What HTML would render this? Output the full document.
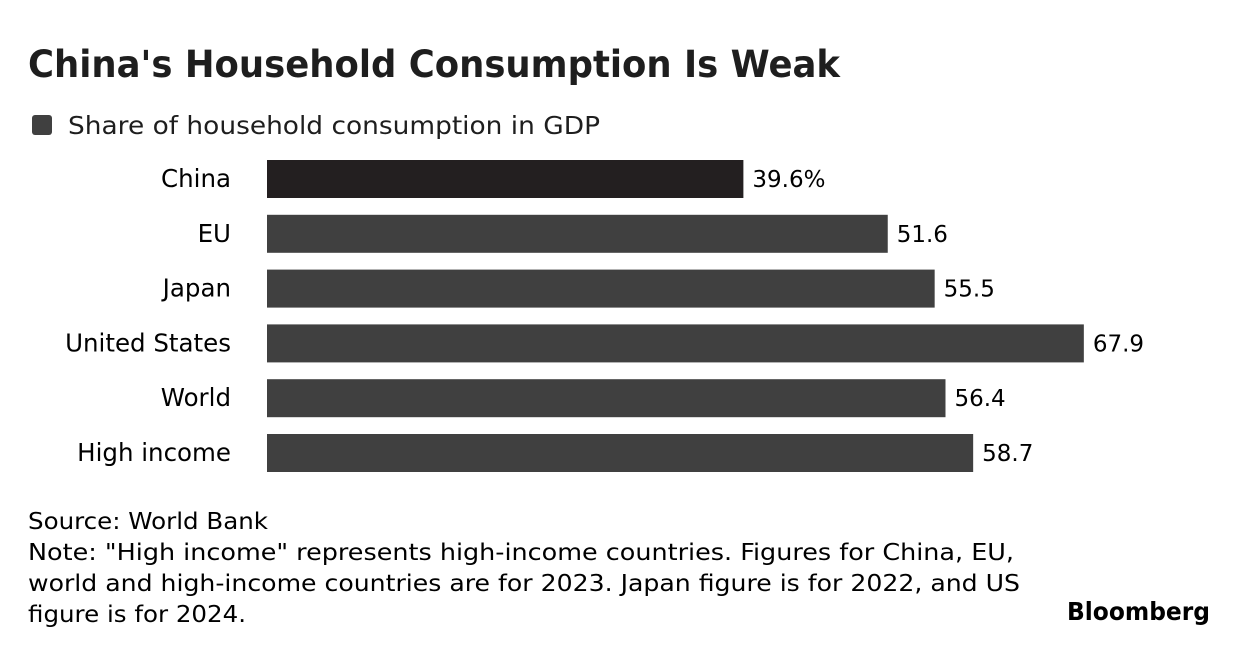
<!DOCTYPE html>
<html><head><meta charset="utf-8"><style>
body{margin:0;background:#fff;width:1240px;height:656px;overflow:hidden;font-family:"DejaVu Sans","Liberation Sans",sans-serif;color:#1e1e1e}
text{font-family:"DejaVu Sans","Liberation Sans",sans-serif}
</style></head><body>
<svg width="1240" height="656" style="position:absolute;left:0;top:0">
<text x="28" y="77" font-size="37" font-weight="bold" fill="#1e1e1e" textLength="812" lengthAdjust="spacingAndGlyphs">China's Household Consumption Is Weak</text>
<rect x="32" y="115" width="20" height="20" rx="3" fill="#404040"/>
<text x="68" y="134" font-size="25" fill="#1e1e1e" textLength="532" lengthAdjust="spacingAndGlyphs">Share of household consumption in GDP</text>
<g id="bars"></g>
<text x="28" y="529" font-size="23" textLength="240" lengthAdjust="spacingAndGlyphs">Source: World Bank</text>
<text x="28" y="560" font-size="23" textLength="986" lengthAdjust="spacingAndGlyphs">Note: "High income" represents high-income countries. Figures for China, EU,</text>
<text x="28" y="591" font-size="23" textLength="992" lengthAdjust="spacingAndGlyphs">world and high-income countries are for 2023. Japan figure is for 2022, and US</text>
<text x="28" y="622" font-size="23" textLength="218" lengthAdjust="spacingAndGlyphs">figure is for 2024.</text>
<text x="1067" y="620" font-size="25" font-weight="bold" textLength="143" lengthAdjust="spacingAndGlyphs">Bloomberg</text>
</svg>
<script>
const categories=["China","EU","Japan","United States","World","High income"];
const values=[39.6,51.6,55.5,67.9,56.4,58.7];
const valueLabels=["39.6%","51.6","55.5","67.9","56.4","58.7"];
const x0=267,scale=12.03,top0=160,pitch=54.8,bh=38;
const xs=v=>x0+v*scale, ys=i=>top0+i*pitch;
const g=document.getElementById('bars');const ns="http://www.w3.org/2000/svg";
categories.forEach((c,i)=>{
 const r=document.createElementNS(ns,'rect');
 
 
 r.setAttribute('x',x0);r.setAttribute('y',ys(i));r.setAttribute('width',xs(values[i])-x0);r.setAttribute('height',bh);
 r.setAttribute('fill',i===0?'#231f20':'#404040');g.appendChild(r);
 const t=document.createElementNS(ns,'text');
 
 
 t.setAttribute('x',231);t.setAttribute('y',ys(i)+bh/2+8);t.setAttribute('text-anchor','end');t.setAttribute('font-size','24.5');t.textContent=c;g.appendChild(t);
 const v=document.createElementNS(ns,'text');
 
 
 v.setAttribute('x',xs(values[i])+9);v.setAttribute('y',ys(i)+bh/2+8);v.setAttribute('font-size','23');v.textContent=valueLabels[i];g.appendChild(v);
});
</script>
</body></html>
